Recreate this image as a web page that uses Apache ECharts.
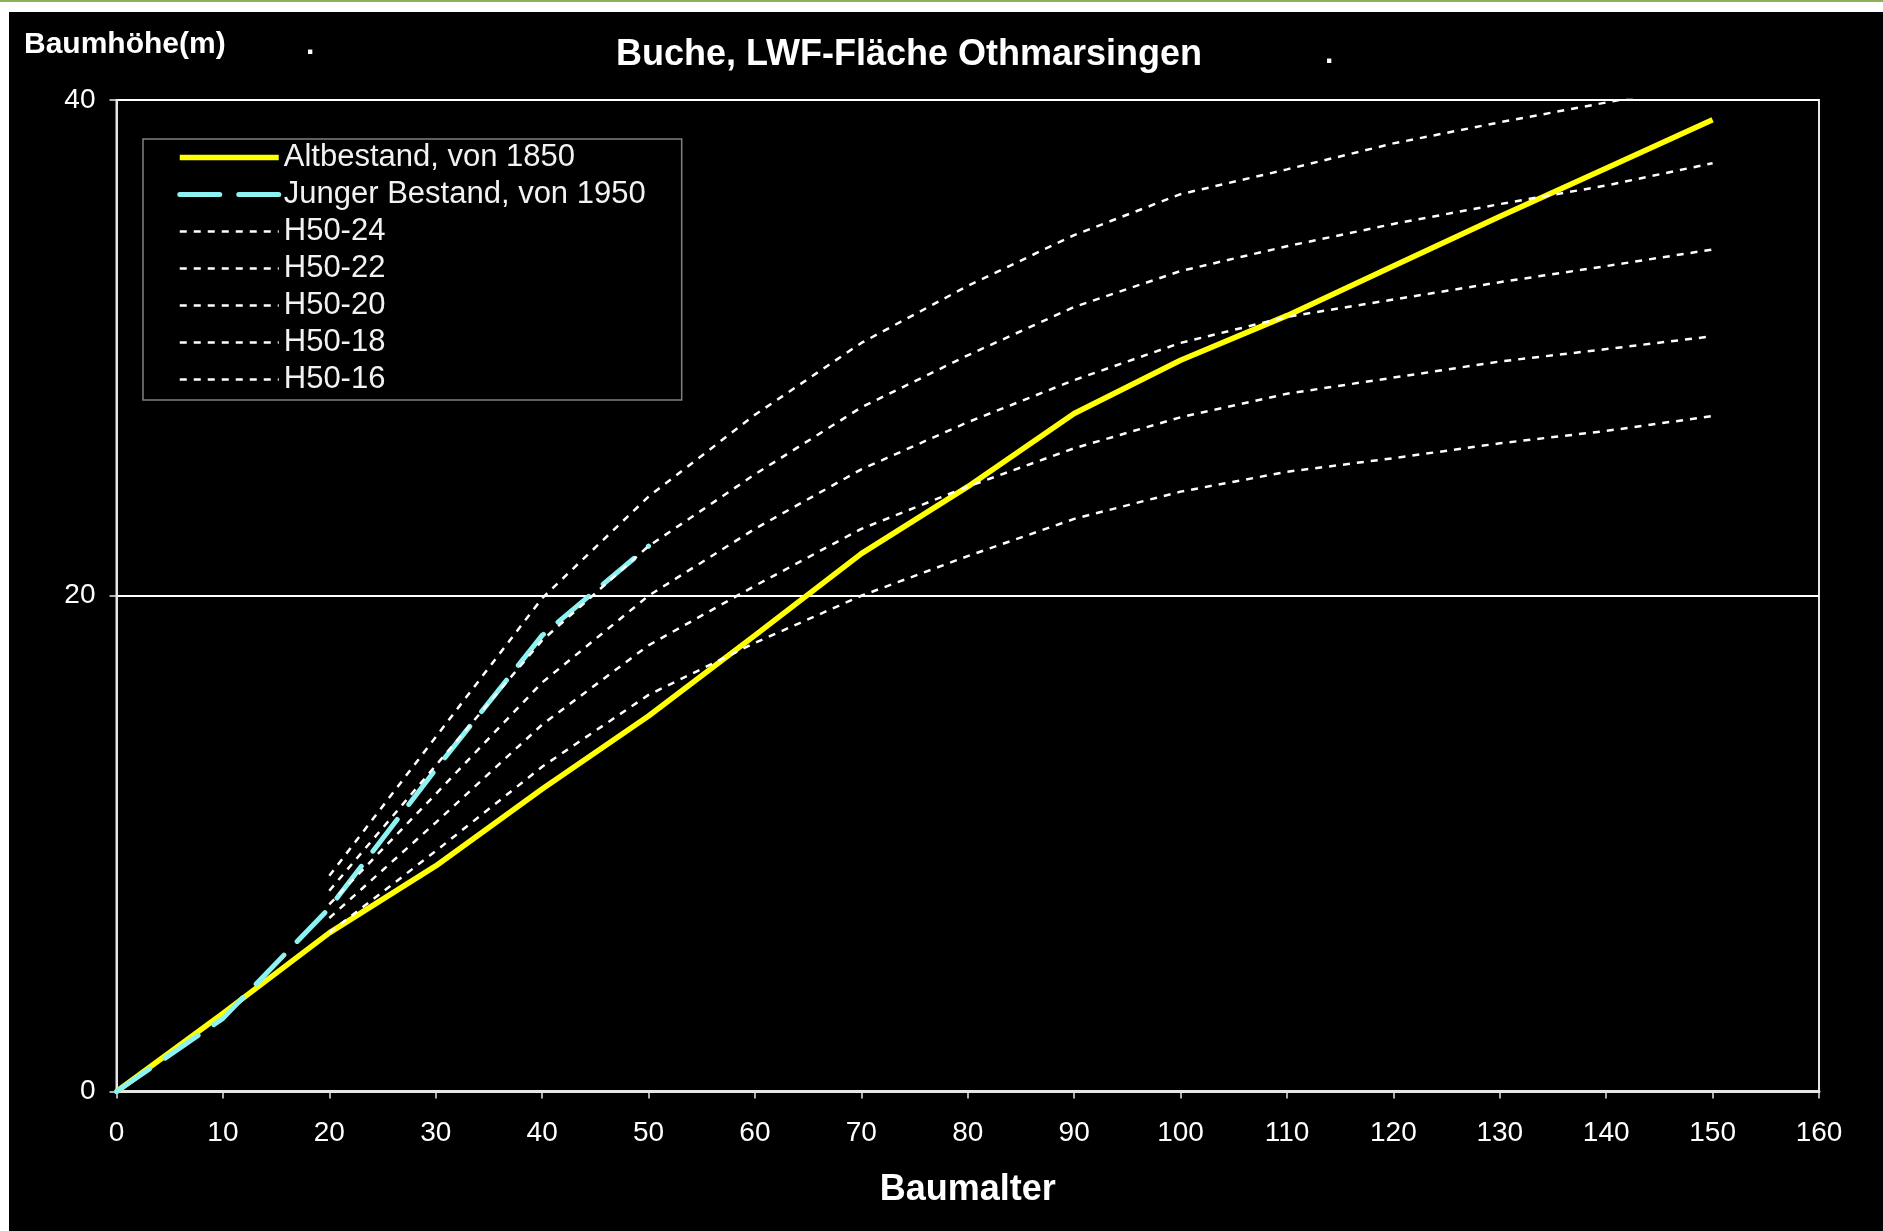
<!DOCTYPE html>
<html>
<head>
<meta charset="utf-8">
<title>Buche, LWF-Fläche Othmarsingen</title>
<script src="https://cdn.jsdelivr.net/npm/echarts@6/dist/echarts.min.js"></script>
<style>
  html, body { margin: 0; padding: 0; background: #ffffff; }
  body { width: 1883px; height: 1231px; position: relative; overflow: hidden; }
  #topline { position: absolute; left: 0; top: 0; width: 1883px; height: 2px; background: #8db255; }
  #frame { position: absolute; left: 9px; top: 12px; right: 0; bottom: 0; background: #000000; }
  #chart { position: absolute; left: 0; top: 0; width: 1883px; height: 1231px; }
</style>
</head>
<body>
<div id="topline"></div>
<div id="frame"></div>
<div id="chart"></div>
<script>
// Baumalter (Jahre)
const ages = [0, 10, 20, 30, 40, 50, 60, 70, 80, 90, 100, 110, 120, 130, 140, 150]

// Altbestand, von 1850
const altbestand = [0, 3.15, 6.4, 9.1, 12.2, 15.15, 18.4, 21.7, 24.4, 27.35, 29.5, 31.3, 33.3, 35.3, 37.25, 39.2]
// Junger Bestand, von 1950 (bis Alter 50)
const jungerBestand = [0, 2.95, 7.4, 13.0, 18.4, 22.0]

// Bonitaetskurven H50 (ab Alter 20)
const h50_24 = [null, null, 8.7, 14.3, 19.9, 24.0, 27.3, 30.2, 32.5, 34.55, 36.2, 37.2, 38.25, 39.1, 39.9, 40.7]
const h50_22 = [null, null, 8.1, 13.15, 18.2, 22.0, 24.9, 27.6, 29.7, 31.65, 33.1, 34.1, 35.0, 35.8, 36.55, 37.45]
const h50_20 = [null, null, 7.55, 12.0, 16.5, 20.0, 22.7, 25.1, 27.0, 28.7, 30.2, 31.25, 31.95, 32.65, 33.3, 33.97]
const h50_18 = [null, null, 7.0, 10.85, 14.8, 18.0, 20.4, 22.7, 24.4, 25.95, 27.2, 28.15, 28.8, 29.45, 29.95, 30.47]
const h50_16 = [null, null, 6.4, 9.7, 13.1, 16.0, 18.1, 20.0, 21.6, 23.1, 24.2, 25.0, 25.55, 26.15, 26.65, 27.25]

const xTicks = { min: 0, max: 160, interval: 10 }
const yTicks = { min: 0, max: 40, interval: 20 }

const FONT = '"Liberation Sans", Arial, sans-serif'

// Wertepaare [Alter, Hoehe] bilden
const toPairs = (values) => values
  .map((v, i) => [ages[i], v])
  .filter(p => p[1] !== null)

const yellowStyle = { color: '#ffff00', width: 5.5 }
const cyanStyle = { color: '#8cf2f2', width: 5, type: [40, 19], cap: 'round' }
const dottedStyle = { color: '#ffffff', width: 2.5, type: [7, 7] }

const curves = [
  { name: 'H50-24', values: h50_24 },
  { name: 'H50-22', values: h50_22 },
  { name: 'H50-20', values: h50_20 },
  { name: 'H50-18', values: h50_18 },
  { name: 'H50-16', values: h50_16 }
]

const series = [
  {
    name: 'Altbestand, von 1850',
    type: 'line',
    data: toPairs(altbestand),
    symbol: 'none',
    z: 2,
    lineStyle: yellowStyle,
    itemStyle: { color: '#ffff00' }
  },
  {
    name: 'Junger Bestand, von 1950',
    type: 'line',
    data: toPairs(jungerBestand),
    symbol: 'none',
    z: 2,
    lineStyle: cyanStyle,
    itemStyle: { color: '#8cf2f2' }
  }
].concat(curves.map(c => ({
  name: c.name,
  type: 'line',
  data: toPairs(c.values),
  symbol: 'none',
  z: 3,
  lineStyle: dottedStyle,
  itemStyle: { color: '#ffffff' }
})))

// Legendeneintraege: nur Linie, ohne Symbol
const legendData = series.map(s => ({
  name: s.name,
  lineStyle: Object.assign({}, s.lineStyle),
  itemStyle: { opacity: 0, borderWidth: 0 }
}))

const chart = echarts.init(document.getElementById('chart'), null, { renderer: 'canvas' })

const option = {
  animation: false,
  backgroundColor: 'transparent',
  textStyle: { fontFamily: FONT },
  title: {
    text: 'Buche, LWF-Fläche Othmarsingen',
    left: 616,
    top: 37,
    padding: 0,
    textStyle: { color: '#ffffff', fontSize: 36, fontWeight: 'bold', fontFamily: FONT }
  },
  graphic: [
    {
      type: 'text', left: 24, top: 30,
      style: { text: 'Baumhöhe(m)', fill: '#ffffff', font: 'bold 30px ' + FONT }
    },
    {
      type: 'text', left: 306, top: 31,
      style: { text: '.', fill: '#ffffff', font: 'bold 30px ' + FONT }
    },
    {
      type: 'text', left: 1325, top: 40,
      style: { text: '.', fill: '#ffffff', font: 'bold 30px ' + FONT }
    }
  ],
  legend: {
    orient: 'vertical',
    left: 143,
    top: 139,
    itemWidth: 99,
    itemHeight: 14,
    itemGap: 6,
    padding: [3, 36, 5, 34],
    borderColor: '#808080',
    borderWidth: 1.5,
    selectedMode: false,
    textStyle: { color: '#f2f2f2', fontSize: 31, fontFamily: FONT },
    data: legendData
  },
  grid: {
    left: 116.5,
    right: 64,
    top: 100,
    bottom: 139.5,
    show: true,
    borderColor: '#e6e6e6',
    borderWidth: 2,
    containLabel: false,
    outerBoundsMode: 'none'
  },
  xAxis: {
    type: 'value',
    min: xTicks.min,
    max: xTicks.max,
    interval: xTicks.interval,
    name: 'Baumalter',
    nameLocation: 'middle',
    nameGap: 81,
    nameTextStyle: { color: '#ffffff', fontSize: 36, fontWeight: 'bold', fontFamily: FONT },
    axisLine: { show: true, lineStyle: { color: '#e6e6e6', width: 3 } },
    axisTick: { show: true, length: 7, lineStyle: { color: '#e6e6e6', width: 1.5 } },
    axisLabel: { color: '#ffffff', fontSize: 28, margin: 28, fontFamily: FONT },
    splitLine: { show: false }
  },
  yAxis: {
    type: 'value',
    min: yTicks.min,
    max: yTicks.max,
    interval: yTicks.interval,
    axisLine: { show: true, lineStyle: { color: '#e6e6e6', width: 2 } },
    axisTick: { show: true, length: 7, lineStyle: { color: '#e6e6e6', width: 1.5 } },
    axisLabel: { color: '#ffffff', fontSize: 28, margin: 21, fontFamily: FONT },
    splitLine: { show: true, lineStyle: { color: '#ffffff', width: 2 } }
  },
  series: series
}

chart.setOption(option)
</script>
</body>
</html>
